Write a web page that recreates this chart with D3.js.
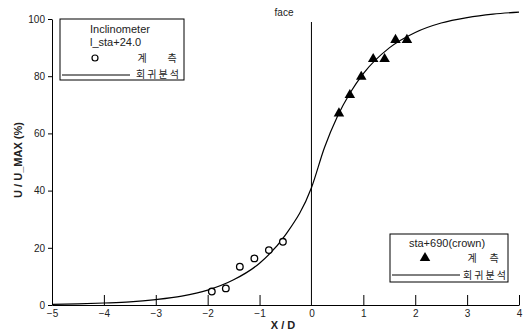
<!DOCTYPE html>
<meta charset="utf-8">
<script src="https://d3js.org/d3.v7.min.js"></script>
<style>
  body { margin: 0; background: #fff; }
  text { font-family: "Liberation Sans", Arial, sans-serif; fill: #222; }
</style>
<body>
<div id="my_dataviz"></div>
<script>
// measured points
var circleX = [-1.92, -1.65, -1.38, -1.10, -0.82, -0.55];
var circleY = [4.7, 5.8, 13.4, 16.3, 19.2, 22.1];
var triX = [0.53, 0.74, 0.96, 1.19, 1.41, 1.62, 1.84];
var triY = [67.0, 73.4, 79.8, 86.0, 86.0, 92.7, 92.7];

// regression curve
var curveX = [-5, -4.5, -4, -3.5, -3, -2.5, -2, -1.5, -1, -0.5, 0, 0.25, 0.5, 0.75, 1, 1.5, 2, 2.5, 3, 3.5, 4];
var curveY = [0.2, 0.4, 0.7, 1.1, 1.9, 3.1, 5.2, 8.8, 14.6, 24.5, 41, 55.0, 65.9, 74.3, 80.9, 89.9, 95.3, 98.6, 100.5, 101.7, 102.4];

var xTicks = [-5, -4, -3, -2, -1, 0, 1, 2, 3, 4];
var yTicks = [0, 20, 40, 60, 80, 100];

var W = 528, H = 333;
var svg = d3.select("#my_dataviz").append("svg")
  .attr("width", W).attr("height", H);

var x = d3.scaleLinear().domain([-5, 4]).range([52, 519]);
var y = d3.scaleLinear().domain([0, 100]).range([305, 19]);

// x axis, ticks pointing up into the plot
var xAxis = svg.append("g")
  .attr("transform", "translate(0," + y(0) + ")")
  .call(d3.axisBottom(x).tickValues(xTicks).tickSize(-10).tickSizeOuter(0).tickPadding(15));
xAxis.select(".domain").attr("stroke", "#000");
xAxis.selectAll(".tick line").attr("stroke", "#000");
xAxis.selectAll(".tick").filter(function (d) { return d === -5 || d === 0; }).select("line").remove();
xAxis.selectAll("text").attr("font-size", 10).attr("fill", "#333").attr("dy", "-0.3em");

// y axis
var yAxis = svg.append("g")
  .attr("transform", "translate(" + x(-5) + ",0)")
  .call(d3.axisLeft(y).tickValues(yTicks).tickSize(4).tickSizeOuter(0).tickPadding(3));
yAxis.select(".domain").attr("stroke", "#000");
yAxis.selectAll("text").attr("font-size", 10).attr("fill", "#333");

// face line
svg.append("line")
  .attr("x1", x(0)).attr("x2", x(0))
  .attr("y1", 22).attr("y2", y(0))
  .attr("stroke", "#000").attr("stroke-width", 1);
svg.append("text")
  .attr("x", 284).attr("y", 16)
  .attr("text-anchor", "middle")
  .attr("font-size", 10)
  .attr("fill", "#444")
  .text("face");

// regression curve
var line = d3.line()
  .x(function (d) { return x(d[0]); })
  .y(function (d) { return y(d[1]); })
  .curve(d3.curveMonotoneX);
svg.append("path")
  .datum(curveX.map(function (v, i) { return [v, curveY[i]]; }))
  .attr("d", line)
  .attr("fill", "none")
  .attr("stroke", "#000")
  .attr("stroke-width", 1.2);

// circles
svg.selectAll(".circ")
  .data(circleX.map(function (v, i) { return [v, circleY[i]]; }))
  .enter().append("circle")
  .attr("cx", function (d) { return x(d[0]); })
  .attr("cy", function (d) { return y(d[1]); })
  .attr("r", 3.3)
  .attr("fill", "#fff")
  .attr("stroke", "#000")
  .attr("stroke-width", 1.3);

// triangles
var tri = d3.symbol().type(d3.symbolTriangle).size(48);
svg.selectAll(".tri")
  .data(triX.map(function (v, i) { return [v, triY[i]]; }))
  .enter().append("path")
  .attr("d", tri)
  .attr("transform", function (d) { return "translate(" + x(d[0]) + "," + y(d[1]) + ")"; })
  .attr("fill", "#000");

// axis titles
svg.append("text")
  .attr("transform", "translate(22,160) rotate(-90)")
  .attr("text-anchor", "middle")
  .attr("font-size", 11)
  .attr("font-weight", "bold")
  .attr("fill", "#000")
  .text("U / U_MAX (%)");
svg.append("text")
  .attr("x", 283).attr("y", 329)
  .attr("text-anchor", "middle")
  .attr("font-size", 11)
  .attr("font-weight", "bold")
  .attr("fill", "#000")
  .text("X / D");

// legend 1
var lg1 = svg.append("g");
lg1.append("rect").attr("x", 60).attr("y", 19).attr("width", 124).attr("height", 61)
  .attr("fill", "#fff").attr("stroke", "#000").attr("stroke-width", 1);
lg1.append("text").attr("x", 90).attr("y", 33).attr("font-size", 11).attr("fill", "#000").text("Inclinometer");
lg1.append("text").attr("x", 90).attr("y", 46).attr("font-size", 11).attr("fill", "#000").text("l_sta+24.0");
lg1.append("circle").attr("cx", 95).attr("cy", 58).attr("r", 3).attr("fill", "#fff")
  .attr("stroke", "#000").attr("stroke-width", 1.2);
lg1.append("text").attr("x", 142).attr("y", 62).attr("font-size", 10).attr("text-anchor", "middle")
  .attr("fill", "#555").style("font-family", "'Noto Sans CJK KR'").text("계");
lg1.append("text").attr("x", 172).attr("y", 62).attr("font-size", 10).attr("text-anchor", "middle")
  .attr("fill", "#555").style("font-family", "'Noto Sans CJK KR'").text("측");
lg1.append("line").attr("x1", 62).attr("x2", 130).attr("y1", 75).attr("y2", 75)
  .attr("stroke", "#000").attr("stroke-width", 1);
lg1.append("text").attr("x", 136).attr("y", 78).attr("font-size", 10).attr("textLength", 43)
  .attr("fill", "#555").style("font-family", "'Noto Sans CJK KR'").text("회귀분석");

// legend 2
var lg2 = svg.append("g");
lg2.append("rect").attr("x", 390).attr("y", 234).attr("width", 118).attr("height", 48)
  .attr("fill", "#fff").attr("stroke", "#000").attr("stroke-width", 1);
lg2.append("text").attr("x", 447).attr("y", 247).attr("font-size", 11).attr("text-anchor", "middle")
  .attr("fill", "#000").text("sta+690(crown)");
lg2.append("path").attr("d", tri).attr("transform", "translate(425,258)").attr("fill", "#000");
lg2.append("text").attr("x", 472).attr("y", 262).attr("font-size", 10).attr("text-anchor", "middle")
  .attr("fill", "#555").style("font-family", "'Noto Sans CJK KR'").text("계");
lg2.append("text").attr("x", 494).attr("y", 262).attr("font-size", 10).attr("text-anchor", "middle")
  .attr("fill", "#555").style("font-family", "'Noto Sans CJK KR'").text("측");
lg2.append("line").attr("x1", 392).attr("x2", 460).attr("y1", 275).attr("y2", 275)
  .attr("stroke", "#000").attr("stroke-width", 1);
lg2.append("text").attr("x", 463).attr("y", 279).attr("font-size", 10).attr("textLength", 43)
  .attr("fill", "#555").style("font-family", "'Noto Sans CJK KR'").text("회귀분석");
</script>
</body>
